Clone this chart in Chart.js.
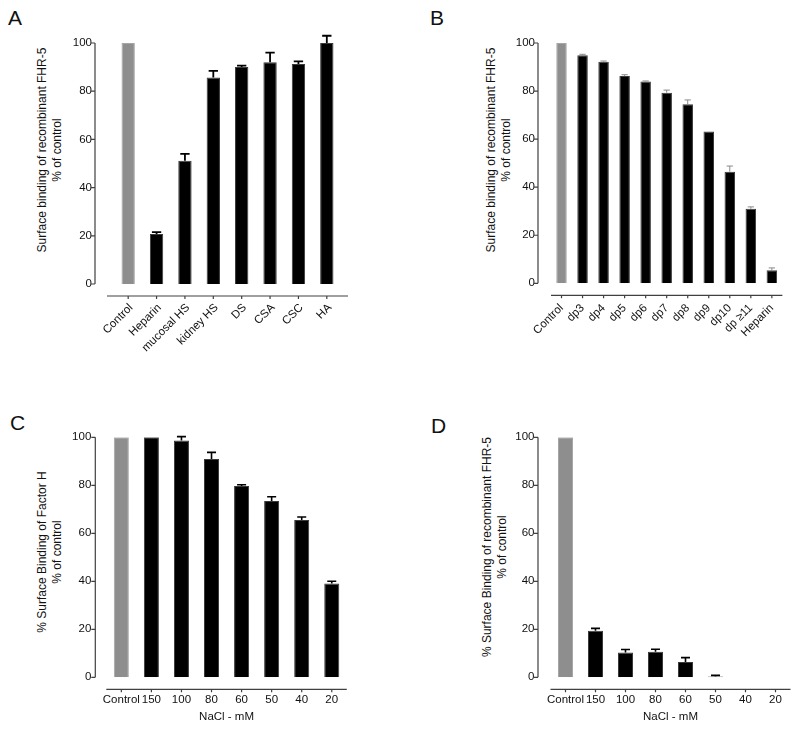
<!DOCTYPE html>
<html lang="en">
<head>
<meta charset="UTF-8">
<title>Surface binding of FHR-5 and Factor H</title>
<script src="https://cdn.jsdelivr.net/npm/chart.js"></script>
<style>
  body { margin: 0; background: #fff; }
  #page { position: relative; width: 800px; height: 729px; font-family: "Liberation Sans", Arial, sans-serif; color: #111; }
  canvas { position: absolute; }
  .letter { position: absolute; font-size: 21px; line-height: 21px; }
  .ytitle { position: absolute; width: 280px; height: 30px; margin-left: -140px; margin-top: -15px;
            text-align: center; font-size: 12px; line-height: 15px; white-space: nowrap; transform: rotate(-90deg); }
</style>
</head>
<body>
<div id="page">
  <div class="letter" style="left:8px;top:7px">A</div>
  <div class="letter" style="left:430px;top:7px">B</div>
  <div class="letter" style="left:10px;top:412px">C</div>
  <div class="letter" style="left:431px;top:415px">D</div>

  <div class="ytitle" style="left:50px;top:150px">Surface binding of recombinant FHR-5<br>% of control</div>
  <div class="ytitle" style="left:499px;top:150px">Surface binding of recombinant FHR-5<br>% of control</div>
  <div class="ytitle" style="left:50px;top:552px">% Surface Binding of Factor H<br>% of control</div>
  <div class="ytitle" style="left:495px;top:547px">% Surface Binding of recombinant FHR-5<br>% of control</div>

  <canvas id="chartA" width="400" height="380" style="left:0;top:0"></canvas>
  <canvas id="chartB" width="400" height="380" style="left:400px;top:0"></canvas>
  <canvas id="chartC" width="400" height="349" style="left:0;top:380px"></canvas>
  <canvas id="chartD" width="400" height="349" style="left:400px;top:380px"></canvas>
</div>
<script>
  // panel A - glycosaminoglycans
  const labelsA = ['Control', 'Heparin', 'mucosal HS', 'kidney HS', 'DS', 'CSA', 'CSC', 'HA'];
  const valuesA = [100, 20.7, 51.1, 85.7, 90.0, 92.0, 91.3, 100];
  const errTopA = [null, 21.5, 54.0, 88.4, 90.6, 96.0, 92.4, 103];

  // panel B - heparin oligosaccharides
  const labelsB = ['Control', 'dp3', 'dp4', 'dp5', 'dp6', 'dp7', 'dp8', 'dp9', 'dp10', 'dp \u226511', 'Heparin'];
  const valuesB = [100, 94.9, 92.2, 86.3, 84.0, 79.3, 74.5, 63.2, 46.4, 31.0, 5.4];
  const errTopB = [null, 95.3, 92.5, 86.8, 84.2, 80.4, 76.3, null, 48.8, 31.8, 6.4];

  // panels C, D - NaCl concentration
  const labelsNaCl = ['Control', '150', '100', '80', '60', '50', '40', '20'];
  const valuesC = [100, 100, 98.7, 91.0, 79.7, 73.5, 65.5, 39.1];
  const errTopC = [null, null, 100.3, 93.7, 80.2, 75.2, 66.8, 40.0];
  const valuesD = [100, 19.4, 10.3, 10.6, 6.4, 0.3, 0, 0];
  const errTopD = [null, 20.4, 11.6, 11.7, 8.2, 0.8, null, null];

  const yMin = 0, yMax = 100, yStep = 20;

  const FONT = '"Liberation Sans", Arial, sans-serif';

  // axes drawn GraphPad-style (detached from the plot) plus error bars
  const decor = {
    id: 'decor',
    afterDatasetsDraw(chart, args, o) {
      const { ctx, chartArea: a, scales: { x, y } } = chart;
      const ds = chart.data.datasets[0];
      const meta = chart.getDatasetMeta(0);
      ctx.save();
      ctx.strokeStyle = '#404040';
      ctx.lineWidth = 1.2;
      ctx.beginPath();
      const ax = a.left - o.yGap;
      ctx.moveTo(ax, y.getPixelForValue(yMin));
      ctx.lineTo(ax, y.getPixelForValue(yMax));
      y.ticks.forEach(t => {
        const py = y.getPixelForValue(t.value);
        ctx.moveTo(ax - 4, py);
        ctx.lineTo(ax, py);
      });
      const by = a.bottom + o.xGap;
      ctx.moveTo(a.left - o.xExt, by);
      ctx.lineTo(a.right + o.xExt, by);
      chart.data.labels.forEach((l, i) => {
        const px = x.getPixelForValue(i);
        ctx.moveTo(px, by);
        ctx.lineTo(px, by + 3);
      });
      ctx.stroke();

      ctx.strokeStyle = o.errColor;
      ctx.lineWidth = o.errWidth;
      meta.data.forEach((bar, i) => {
        const top = ds.errTop[i];
        if (top == null) return;
        const px = bar.x;
        const py = y.getPixelForValue(top);
        const base = y.getPixelForValue(ds.data[i]);
        const hw = bar.width * o.cap / 2;
        ctx.beginPath();
        ctx.moveTo(px, base);
        ctx.lineTo(px, py);
        ctx.moveTo(px - hw, py);
        ctx.lineTo(px + hw, py);
        ctx.stroke();
      });
      ctx.restore();
    }
  };

  function makePanel(id, labels, values, errTop, p) {
    const ctx = document.getElementById(id).getContext('2d');
    return new Chart(ctx, {
      type: 'bar',
      data: {
        labels: labels,
        datasets: [{
          data: values,
          errTop: errTop,
          backgroundColor: values.map((v, i) => i === 0 ? '#8e8e8e' : '#000000'),
          borderColor: values.map((v, i) => i === 0 ? '#a6a6a6' : '#3a3a3a'),
          borderWidth: 1,
          barPercentage: p.bar,
          categoryPercentage: 1
        }]
      },
      options: {
        responsive: false,
        animation: false,
        layout: { padding: { left: 0, right: p.right, top: p.top, bottom: 0 } },
        plugins: {
          legend: { display: false },
          tooltip: { enabled: false },
          decor: p.decor
        },
        scales: {
          x: {
            grid: { display: false, drawTicks: false, tickLength: 0 },
            border: { display: false },
            ticks: {
              autoSkip: false, maxRotation: p.rot, minRotation: p.rot,
              padding: p.xPad, labelOffset: p.lblOff || 0,
              color: '#111', font: { size: 11.5, family: FONT }
            },
            title: p.xTitle
              ? { display: true, text: p.xTitle, color: '#111', font: { size: 11.5, family: FONT }, padding: { top: 0, bottom: 5 } }
              : { display: false },
            afterFit: s => { s.height = p.xHeight; }
          },
          y: {
            min: yMin, max: yMax,
            grid: { display: false, drawTicks: false, tickLength: 0 },
            border: { display: false },
            ticks: { stepSize: yStep, padding: p.yPad, color: '#111', font: { size: 11.5, family: FONT } },
            afterFit: s => { s.width = p.left; }
          }
        }
      },
      plugins: [decor]
    });
  }

  makePanel('chartA', labelsA, valuesA, errTopA, {
    left: 114, right: 59, top: 43, xHeight: 96, bar: 0.47, rot: 45, xPad: 17, lblOff: 3, yPad: 22,
    decor: { yGap: 19, xGap: 12, xExt: 7, errColor: '#000', errWidth: 1.8, cap: 0.7 }
  });
  makePanel('chartB', labelsB, valuesB, errTopB, {
    left: 151, right: 8.6, top: 43, xHeight: 96.7, bar: 0.5, rot: 45, xPad: 18, lblOff: 0, yPad: 16,
    decor: { yGap: 13, xGap: 12, xExt: 0, errColor: '#8a8a8a', errWidth: 1, cap: 0.6 }
  });
  makePanel('chartC', labelsNaCl, valuesC, errTopC, {
    left: 106.3, right: 53.2, top: 57.3, xHeight: 51.7, bar: 0.5, rot: 0, xPad: 16, yPad: 15,
    xTitle: 'NaCl - mM',
    decor: { yGap: 11, xGap: 12, xExt: 0, errColor: '#000', errWidth: 1.6, cap: 0.6 }
  });
  makePanel('chartD', labelsNaCl, valuesD, errTopD, {
    left: 150.5, right: 9.5, top: 57.3, xHeight: 51.7, bar: 0.5, rot: 0, xPad: 16, yPad: 16,
    xTitle: 'NaCl - mM',
    decor: { yGap: 12.5, xGap: 12, xExt: 0, errColor: '#000', errWidth: 1.6, cap: 0.6 }
  });
</script>
</body>
</html>
